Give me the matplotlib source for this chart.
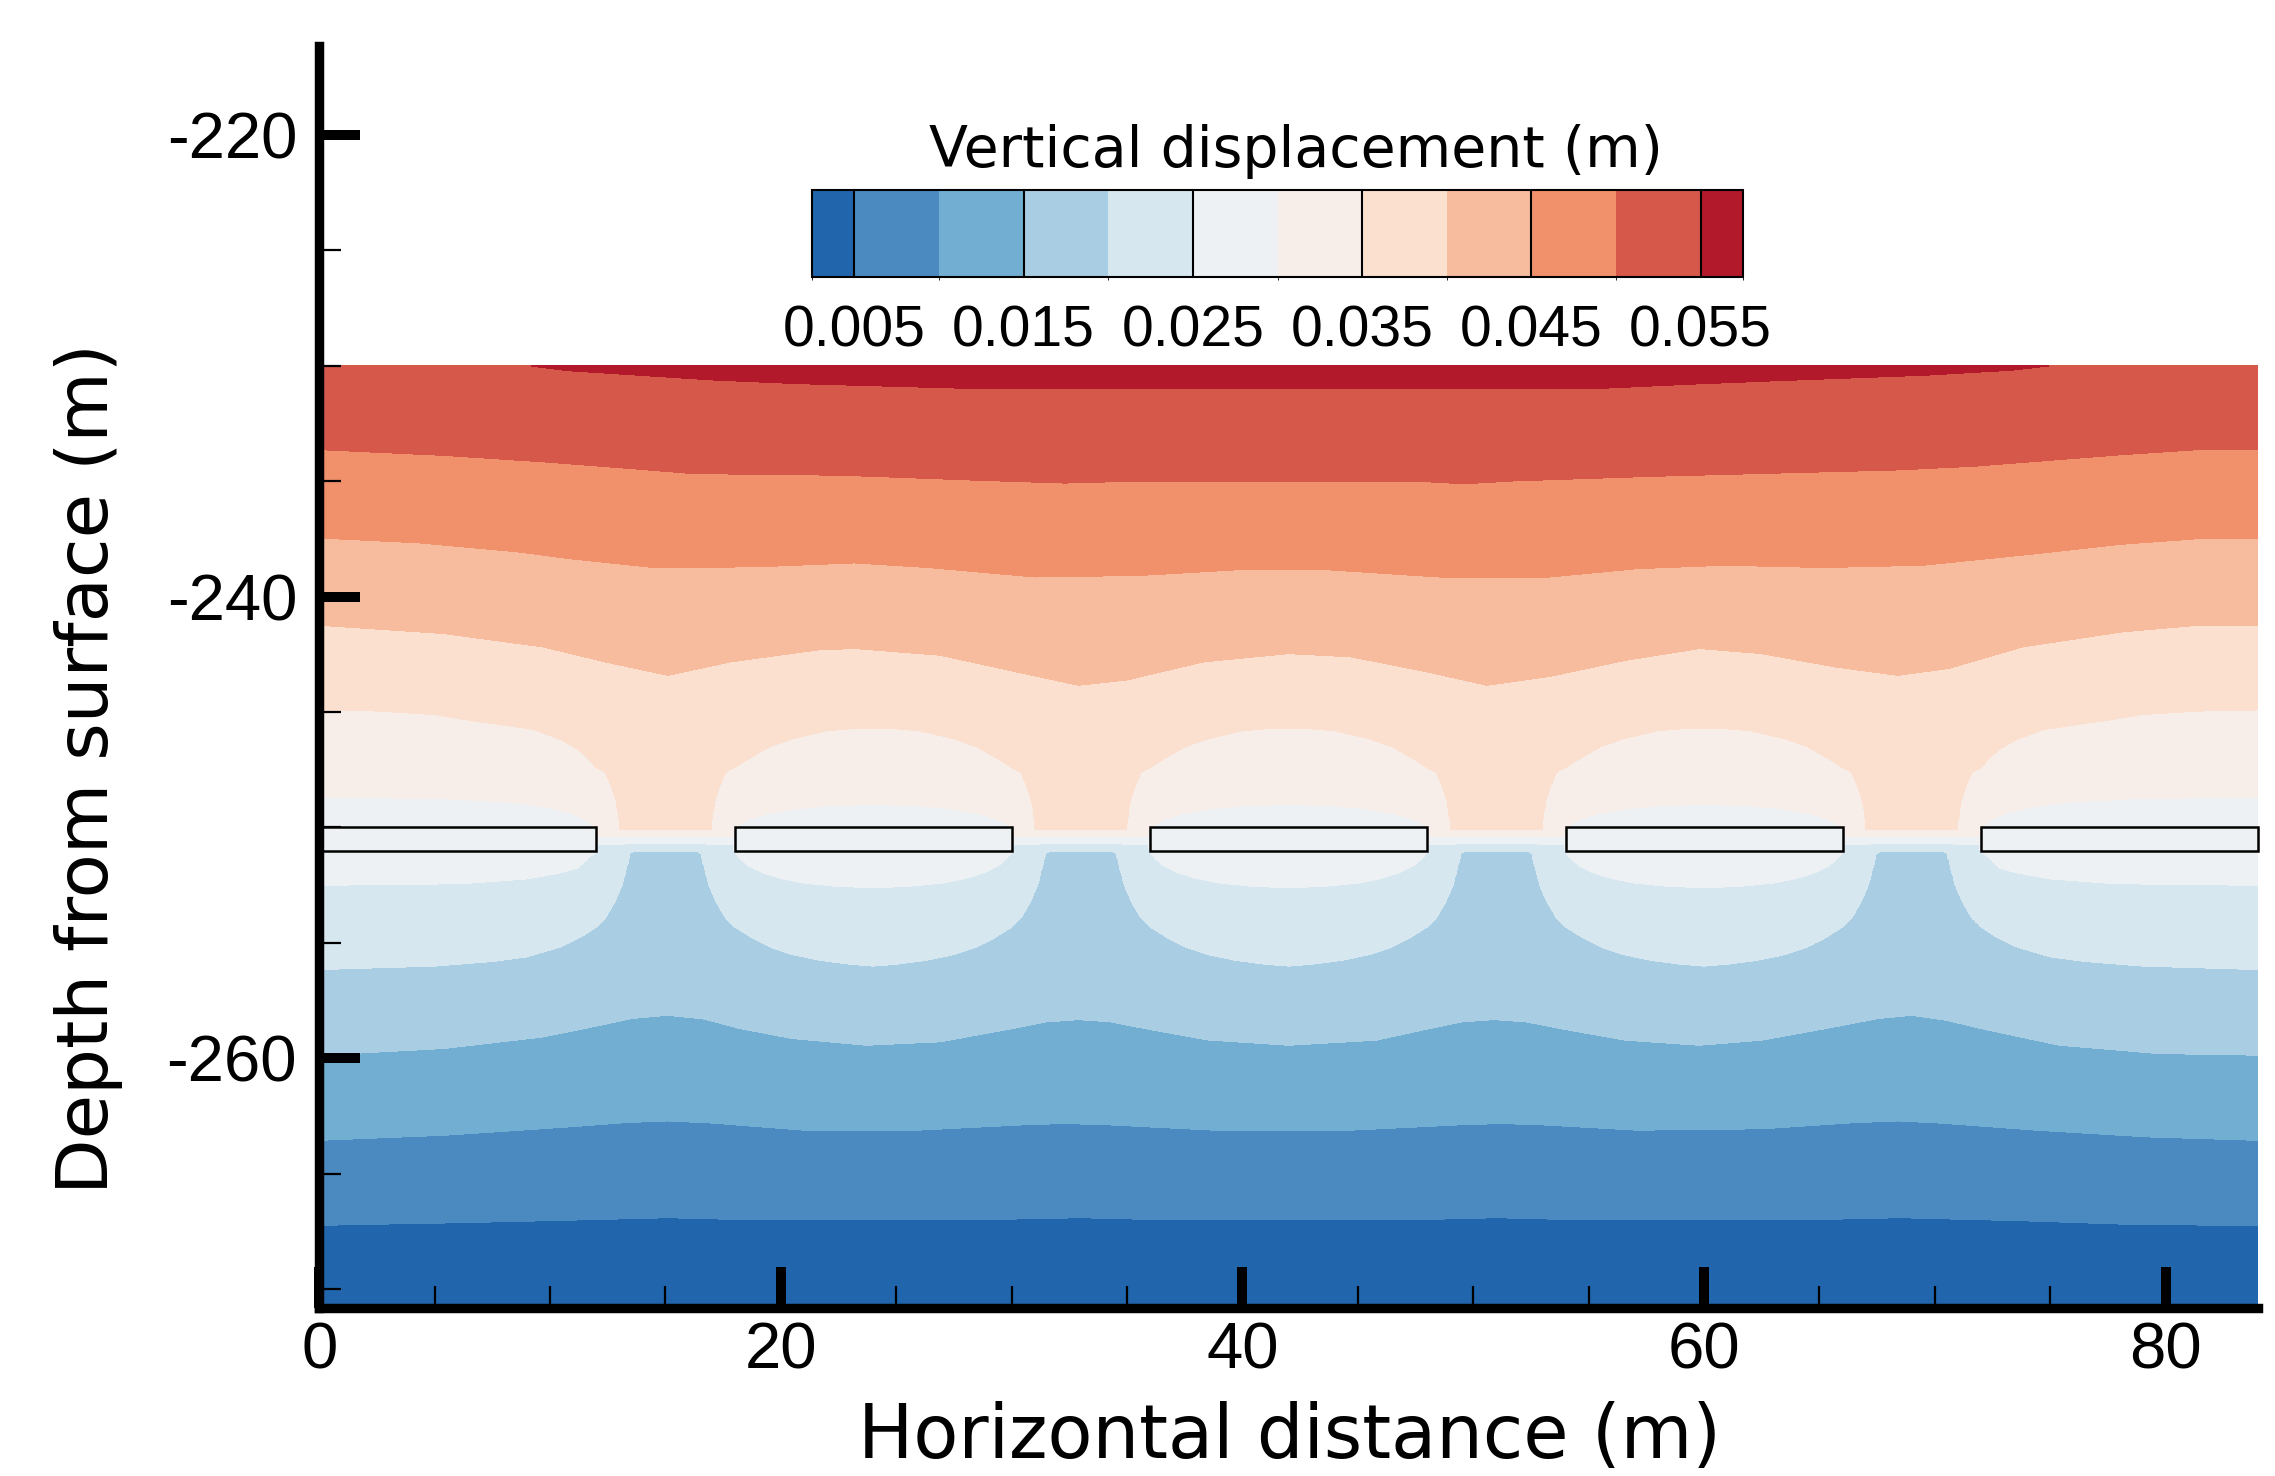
import numpy as np
import matplotlib
matplotlib.use("Agg")
import matplotlib.pyplot as plt
from matplotlib.colors import ListedColormap, BoundaryNorm
from matplotlib.patches import Rectangle
import matplotlib.colorbar as mcolorbar

plt.rcParams["axes.unicode_minus"] = False

# ---------------- data ----------------
levels = [0.005, 0.010, 0.015, 0.020, 0.025, 0.030, 0.035, 0.040, 0.045, 0.050, 0.055]
band_colors = ["#2166ac", "#4a8ac0", "#72aed2", "#a9cde3", "#d7e7f0", "#edf1f4",
               "#f7eeea", "#fbe0d0", "#f7bc9e", "#f0916b", "#d5584b", "#b2192b"]
cbar_ticks = [0.005, 0.015, 0.025, 0.035, 0.045, 0.055]
cbar_labels = ["0.005", "0.015", "0.025", "0.035", "0.045", "0.055"]
x_ticks = [0, 20, 40, 60, 80]
x_tick_labels = ["0", "20", "40", "60", "80"]
y_ticks = [-220, -240, -260]
y_tick_labels = ["-220", "-240", "-260"]

panel_starts = [0, 18, 36, 54, 72]
panel_length = 12
panel_bottom = -251.0
panel_height = 1.0

# far-field contour lines: depth (m) of each level along x (m)
c005_x = [0, 5.4, 10.8, 15.1, 19, 28, 33, 37, 47, 51, 55, 64, 68.5, 74.4, 78.7, 84]
c005_y = [-267.23, -267.13, -267.01, -266.9, -267.0, -267.0, -266.9, -267.0, -267.0,
          -266.9, -267.0, -267.0, -266.9, -267.05, -267.2, -267.23]
c010_x = [0, 5.4, 10.8, 13.3, 15.1, 17.0, 21, 25.9, 30.5, 32.3, 34.2, 38.8, 44.7, 49.4,
          51.2, 53.0, 57.1, 62.5, 66.6, 68.4, 70.2, 74.4, 79.2, 84]
c010_y = [-263.55, -263.33, -262.97, -262.78, -262.71, -262.8, -263.11, -263.11, -262.88,
          -262.82, -262.88, -263.11, -263.11, -262.88, -262.82, -262.88, -263.11, -263.05,
          -262.78, -262.71, -262.8, -263.11, -263.4, -263.55]
c015_x = [0, 5.4, 9.7, 12.0, 13.5, 15.1, 16.7, 18.2, 20.5, 23.7, 26.9, 29.8, 31.5, 32.9,
          34.3, 36.0, 38.5, 42, 45.8, 47.9, 49.5, 50.9, 52.3, 54.0, 56.6, 59.8, 62.5, 65.3,
          67.5, 69, 70.5, 72.2, 75.4, 79.7, 84]
c015_y = [-259.86, -259.57, -259.07, -258.6, -258.28, -258.13, -258.3, -258.7, -259.14,
          -259.43, -259.28, -258.75, -258.42, -258.32, -258.42, -258.75, -259.2, -259.43,
          -259.21, -258.75, -258.42, -258.32, -258.42, -258.75, -259.21, -259.43, -259.21,
          -258.7, -258.28, -258.13, -258.35, -258.75, -259.43, -259.79, -259.86]
c040_x = [0, 5.4, 9.7, 12.4, 15.1, 17.8, 21.6, 23.2, 26.9, 30.2, 32.9, 35, 38.3, 42, 44.7,
          48, 50.6, 53.3, 56.6, 59.8, 62.5, 65.7, 68.4, 70.6, 73.8, 78.1, 81.4, 84]
c040_y = [-241.23, -241.59, -242.17, -242.82, -243.4, -242.82, -242.3, -242.24, -242.53,
          -243.25, -243.83, -243.6, -242.82, -242.46, -242.6, -243.25, -243.83, -243.45,
          -242.75, -242.24, -242.46, -243.04, -243.4, -243.1, -242.17, -241.52, -241.23, -241.23]
c045_x = [0, 4.3, 8.6, 10.8, 14.5, 18.9, 23.2, 26.4, 31, 35.6, 39.9, 43.6, 48.5, 53.3, 57.1,
          60.9, 65.2, 69.5, 74.4, 78.1, 81.4, 84]
c045_y = [-237.45, -237.66, -238.05, -238.34, -238.73, -238.7, -238.53, -238.73, -239.14,
          -239.07, -238.82, -238.82, -239.14, -239.14, -238.78, -238.63, -238.73, -238.63,
          -238.13, -237.72, -237.48, -237.45]
c050_x = [0, 5.4, 9.7, 13.5, 16.2, 22.6, 28.6, 32.3, 35.6, 47.4, 49.6, 51.7, 57.7, 68.4,
          71.7, 78.1, 81.4, 84]
c050_y = [-233.62, -233.87, -234.15, -234.44, -234.66, -234.73, -234.95, -235.07, -234.98,
          -234.98, -235.1, -234.98, -234.78, -234.5, -234.34, -233.84, -233.62, -233.62]
c055_x = [0, 9.2, 10.8, 17, 20.7, 25, 28.6, 55.2, 59.3, 63, 69.5, 73.3, 74.9, 84]
c055_y = [-229.5, -230.0, -230.2, -230.6, -230.76, -230.88, -230.98, -230.98, -230.79,
          -230.64, -230.4, -230.18, -230.0, -229.5]

# contours around the panels: depth vs signed distance s from the nearest panel edge
# (s < 0 inside the panel span, s > 0 in the gap)
inner_s = {
    0.020: ([-6, -5, -3.7, -2.5, -1.6, -0.8, 0], [-256.0, -255.92, -255.75, -255.5, -255.2, -254.8, -254.3]),
    0.025: ([-6, -4.5, -3, -2, -1.2, -0.6, -0.25, 0], [-252.6, -252.55, -252.4, -252.2, -251.95, -251.65, -251.35, -251.05]),
    0.030: ([-6, -4, -2.5, -1.4, -0.6, -0.2, 0], [-249.0, -249.05, -249.2, -249.4, -249.65, -249.85, -250.0]),
    0.035: ([-6, -5, -4, -2.5, -1.5, -0.8, -0.3, 0], [-245.7, -245.72, -245.8, -246.15, -246.5, -246.9, -247.2, -247.4]),
}
edge_s = {
    0.020: ([-12, -7, -4.5, -3, -1.5, -0.6, 0], [-256.15, -256.0, -255.8, -255.6, -255.15, -254.7, -254.3]),
    0.025: ([-12, -5.8, -3, -1.5, -0.8, -0.35, 0], [-252.5, -252.43, -252.22, -251.95, -251.75, -251.3, -251.05]),
    0.030: ([-12, -6.8, -3.6, -2, -1, -0.4, 0], [-248.68, -248.74, -248.9, -249.15, -249.4, -249.7, -250.0]),
    0.035: ([-12, -9.4, -7, -5.8, -3.6, -2.7, -1.5, -0.8, -0.4, 0],
            [-244.9, -244.95, -245.1, -245.3, -245.62, -245.75, -246.2, -246.6, -246.95, -247.4]),
}
gap_s = {
    0.020: ([0, 0.4, 0.8, 1.1, 1.3, 1.45, 1.7, 3], [-254.3, -253.9, -253.2, -252.5, -251.7, -251.1, -251.0, -251.0]),
    0.025: ([0, 3], [-250.7, -250.7]),
    0.030: ([0, 3], [-250.4, -250.4]),
    0.035: ([0, 0.4, 0.65, 0.85, 0.95, 1.0, 3], [-247.4, -247.6, -248.2, -248.8, -249.4, -250.1, -250.1]),
}

# ---------------- build the field from the read contour depths ----------------
far_lines = {0.005: (c005_x, c005_y), 0.010: (c010_x, c010_y), 0.015: (c015_x, c015_y),
             0.040: (c040_x, c040_y), 0.045: (c045_x, c045_y), 0.050: (c050_x, c050_y),
             0.055: (c055_x, c055_y)}


def locate(x):
    k = min(int(x // 18), 4)
    u = x - 18 * k
    if u <= 12:
        if k == 0:
            return edge_s, u - 12
        if k == 4:
            return edge_s, -u
        return inner_s, -min(u, 12 - u)
    return gap_s, min(u - 12, 18 - u)


xg = np.linspace(0, 84, 1401)
yg = np.linspace(-270.81, -230.0, 1640)
Z = np.empty((yg.size, xg.size))
for j, x in enumerate(xg):
    table, s = locate(x)
    depths = []
    for lev in levels:
        if lev in far_lines:
            lx, ly = far_lines[lev]
            depths.append(np.interp(x, lx, ly))
        else:
            ts, ty = table[lev]
            depths.append(np.interp(s, ts, ty))
    Z[:, j] = np.interp(yg, [-280.0] + depths + [-220.0], [-0.005] + levels + [0.07])

# ---------------- figure ----------------
fig = plt.figure(figsize=(22.75, 14.76), dpi=100)
ax = fig.add_axes([0.14035, 0.11403, 0.85218, 0.8548])

cs = ax.contourf(xg, yg, Z, levels=[-1.0] + levels + [1.0], colors=band_colors)
cs.set_edgecolor("face")
cs.set_linewidth(0.3)

for p in panel_starts:
    ax.add_patch(Rectangle((p, panel_bottom), panel_length, panel_height,
                           facecolor="#edf1f4", edgecolor="black", lw=1.8,
                           zorder=3, clip_on=False))

ax.set_xlim(0, 84)
ax.set_ylim(-270.81, -216.14)
for side in ("top", "right"):
    ax.spines[side].set_visible(False)
for side in ("left", "bottom"):
    ax.spines[side].set_linewidth(6.8)
    ax.spines[side].set_zorder(5)

ax.set_xticks(x_ticks)
ax.set_xticklabels(x_tick_labels)
ax.set_yticks(y_ticks)
ax.set_yticklabels(y_tick_labels)
ax.set_xticks(np.arange(5, 84, 5), minor=True)
ax.set_yticks(np.arange(-270, -216, 5), minor=True)
ax.tick_params(which="major", direction="in", length=29.5, width=7.2, color="black")
ax.tick_params(which="minor", direction="in", length=16, width=1.6, color="black")
ax.tick_params(axis="x", which="major", pad=10)
ax.tick_params(axis="y", which="major", pad=16)
for lab in ax.get_xticklabels() + ax.get_yticklabels():
    lab.set_fontfamily("Liberation Sans")
    lab.set_fontsize(47)

fig.text(1290 / 2275, 1 - 1458 / 1476, "Horizontal distance (m)", ha="center",
         va="baseline", fontsize=53, family="DejaVu Sans")
fig.text(89 / 2275, 1 - 769 / 1476, "Depth from surface (m)", ha="center",
         va="center", rotation=90, fontsize=52, family="DejaVu Sans")

# colorbar
cax = fig.add_axes([812 / 2275, 1 - 277 / 1476, 931 / 2275, 87 / 1476])
cmap = ListedColormap(band_colors)
bounds = [0.0025] + levels + [0.0575]
norm = BoundaryNorm(bounds, cmap.N)
cb = mcolorbar.ColorbarBase(cax, cmap=cmap, norm=norm, boundaries=bounds,
                            spacing="proportional", orientation="horizontal",
                            ticks=cbar_ticks)
cb.set_ticklabels(cbar_labels)
cb.outline.set_linewidth(1.5)
for t in cbar_ticks:
    cax.axvline(t, color="black", lw=1.5)
cax.tick_params(length=0, pad=20)
for lab in cax.get_xticklabels():
    lab.set_fontfamily("Liberation Sans")
    lab.set_fontsize(41)
fig.text(1296 / 2275, 1 - 167 / 1476, "Vertical displacement (m)", ha="center",
         va="baseline", fontsize=41, family="DejaVu Sans")

fig.savefig("out.png", dpi=100)
